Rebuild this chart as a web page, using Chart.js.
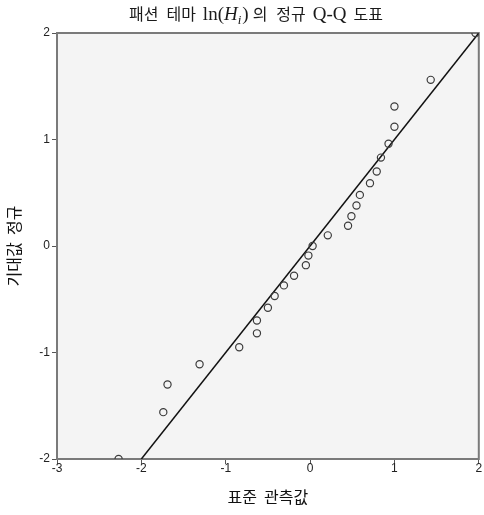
<!DOCTYPE html>
<html lang="ko">
<head>
<meta charset="utf-8">
<title>패션 테마 ln(Hi)의 정규 Q-Q 도표</title>
<script src="https://cdn.jsdelivr.net/npm/chart.js@4/dist/chart.umd.min.js"></script>
<style>
  html, body { margin: 0; padding: 0; background: #fff; }
  #wrap { width: 484px; height: 515px; position: relative; }
  canvas { display: block; }
</style>
</head>
<body>
<div id="wrap"><canvas id="qq" width="484" height="515"></canvas></div>
<script>
// ── Data ──────────────────────────────────────────────────────────────────────
// observed standardized values vs. expected normal quantiles
const observed = [
  1.96, 1.43, 1.00, 1.00, 0.93, 0.84, 0.79, 0.71, 0.59, 0.55, 0.49, 0.45, 0.21,
  0.03, -0.02, -0.05, -0.19, -0.31, -0.42, -0.50, -0.63, -0.63, -0.84, -1.31,
  -1.69, -1.74, -2.27
];
const expected = [
  2.00, 1.56, 1.31, 1.12, 0.96, 0.83, 0.70, 0.59, 0.48, 0.38, 0.28, 0.19, 0.10,
  0.00, -0.09, -0.18, -0.28, -0.37, -0.47, -0.58, -0.70, -0.82, -0.95, -1.11,
  -1.30, -1.56, -2.00
];
// reference line y = x
const refLine = [-2, 2];

const xTicks = [-3, -2, -1, 0, 1, 2];
const yTicks = [-2, -1, 0, 1, 2];

const xTitle = '표준  관측값';
const yTitle = '기대값  정규';

// ── Plot frame / title ────────────────────────────────────────────────────────
const KR   = '"Noto Sans CJK KR", "Noto Sans", sans-serif';
const SERIF = '"Liberation Serif", "DejaVu Serif", serif';

const framePlugin = {
  id: 'frame',
  beforeDraw(chart) {
    const { ctx, chartArea: a } = chart;
    ctx.save();
    ctx.fillStyle = '#f4f4f4';
    ctx.fillRect(a.left, a.top, a.right - a.left, a.bottom - a.top);
    ctx.restore();
  },
  beforeDatasetsDraw(chart) {
    const { ctx, chartArea: a } = chart;
    ctx.save();
    ctx.strokeStyle = '#7a7a7a';
    ctx.lineWidth = 2;
    ctx.strokeRect(a.left, a.top, a.right - a.left, a.bottom - a.top);
    ctx.restore();
  },
};

// title mixes Korean text with a serif math expression ln(H_i)
const titleParts = [
  { t: '패션', font: `16px ${KR}`, gap: 8 },
  { t: '테마', font: `16px ${KR}`, gap: 7 },
  { t: 'ln(', font: `19px ${SERIF}` },
  { t: 'H', font: `italic 19px ${SERIF}` },
  { t: 'i', font: `italic 13px ${SERIF}`, dy: 4, gap: 1 },
  { t: ')', font: `19px ${SERIF}`, gap: 4 },
  { t: '의', font: `16px ${KR}`, gap: 9 },
  { t: '정규', font: `16px ${KR}`, gap: 7 },
  { t: 'Q-Q', font: `19px ${SERIF}`, gap: 7 },
  { t: '도표', font: `16px ${KR}` },
];

const titlePlugin = {
  id: 'mixedTitle',
  afterDraw(chart) {
    const { ctx } = chart;
    ctx.save();
    ctx.fillStyle = '#1a1a1a';
    ctx.textBaseline = 'alphabetic';
    let w = 0;
    for (const p of titleParts) { ctx.font = p.font; w += ctx.measureText(p.t).width + (p.gap || 0); }
    let x = 256 - w / 2;
    for (const p of titleParts) {
      ctx.font = p.font;
      ctx.fillText(p.t, x, 20 + (p.dy || 0));
      x += ctx.measureText(p.t).width + (p.gap || 0);
    }
    ctx.restore();
  },
};

// ── Chart ─────────────────────────────────────────────────────────────────────
const points = observed.map((x, i) => ({ x, y: expected[i] }));
const line   = refLine.map(v => ({ x: v, y: v }));

const tickFont = { family: '"Liberation Sans", Arial, sans-serif', size: 12 };

new Chart(document.getElementById('qq'), {
  type: 'scatter',
  data: {
    datasets: [
      {
        data: points,
        pointStyle: 'circle',
        pointRadius: 3.6,
        pointBorderWidth: 1.2,
        pointBorderColor: '#3c3c3c',
        pointBackgroundColor: 'rgba(0,0,0,0)',
      },
      {
        type: 'line',
        data: line,
        borderColor: '#111',
        borderWidth: 1.5,
        pointRadius: 0,
        fill: false,
      },
    ],
  },
  options: {
    responsive: false,
    animation: false,
    devicePixelRatio: 1,
    layout: { padding: { top: 33, right: 3, left: 0, bottom: 0 } },
    plugins: {
      legend: { display: false },
      tooltip: { enabled: false },
    },
    scales: {
      x: {
        type: 'linear',
        min: -3, max: 2,
        afterBuildTicks: s => { s.ticks = xTicks.map(value => ({ value })); },
        afterFit: s => { s.height = 56; },
        border: { display: false },
        grid: { drawOnChartArea: false, drawTicks: true, tickLength: 5, color: '#555' },
        ticks: { font: tickFont, color: '#222', padding: -3 },
        title: {
          display: true, text: xTitle, color: '#111',
          font: { family: KR, size: 16 },
          padding: { top: 0, bottom: 8 },
        },
      },
      y: {
        type: 'linear',
        min: -2, max: 2,
        afterBuildTicks: s => { s.ticks = yTicks.map(value => ({ value })); },
        afterFit: s => { s.width = 57; },
        border: { display: false },
        grid: { drawOnChartArea: false, drawTicks: true, tickLength: 5, color: '#555' },
        ticks: { font: tickFont, color: '#222', padding: 2 },
        title: {
          display: true, text: yTitle, color: '#111',
          font: { family: KR, size: 16 },
          padding: { top: 4, bottom: 0 },
        },
      },
    },
  },
  plugins: [framePlugin, titlePlugin],
});
</script>
</body>
</html>
